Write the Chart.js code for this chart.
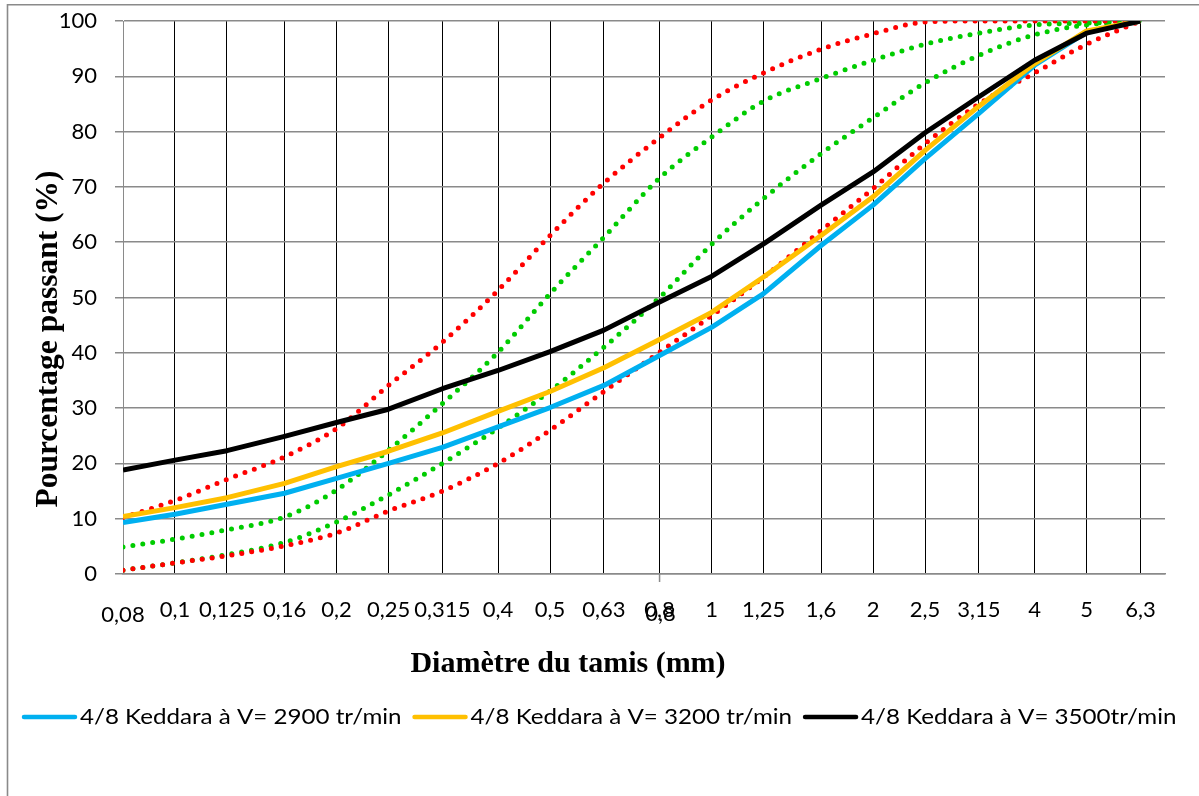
<!DOCTYPE html>
<html>
<head>
<meta charset="utf-8">
<script src="https://cdn.jsdelivr.net/npm/chart.js@4.4.0/dist/chart.umd.min.js"></script>
<style>
html,body{margin:0;padding:0;background:#fff;}
#wrap{width:1199px;height:796px;position:relative;}
</style>
</head>
<body>
<div id="wrap"><canvas id="c" width="1199" height="796"></canvas></div>
<script>
// Sieve sizes (mm) and their labels
const sieves = [0.08,0.1,0.125,0.16,0.2,0.25,0.315,0.4,0.5,0.63,0.8,1,1.25,1.6,2,2.5,3.15,4,5,6.3];
const sieveLabels = ['0,08','0,1','0,125','0,16','0,2','0,25','0,315','0,4','0,5','0,63','0,8','1','1,25','1,6','2','2,5','3,15','4','5','6,3'];

// Measured curves (% passing)
const v2900 = [9.3,10.8,12.6,14.6,17.3,20.0,22.9,26.6,30.1,34.1,39.5,44.6,50.7,59.4,66.7,75.1,83.3,92.0,98.0,100];
const v3200 = [10.4,12.0,13.8,16.4,19.4,22.2,25.5,29.4,33.0,37.3,42.4,47.3,53.7,61.2,68.2,76.6,84.6,92.3,98.2,100];
const v3500 = [18.8,20.6,22.3,24.9,27.4,29.8,33.5,36.8,40.2,44.1,49.2,53.8,59.7,66.7,72.7,79.8,86.3,92.9,97.8,100];

// Spindle limits (dotted)
const redUpper   = [10.2,13.3,17.1,21.2,26.3,34.1,41.9,51.3,61.2,70.7,78.9,85.7,90.6,94.9,97.7,99.8,100,100,100,100];
const redLower   = [0.7,2.0,3.3,5.1,7.4,11.4,15.0,20.0,26.0,33.0,40.1,46.7,53.7,62.1,69.7,77.8,85.0,90.6,95.8,100];
const greenUpper = [4.9,6.3,8.0,10.3,15.2,22.4,30.8,40.1,50.7,60.9,71.6,79.0,85.5,89.6,92.9,95.8,97.8,99.3,99.6,100];
const greenLower = [0.7,2.0,3.5,5.7,9.4,14.3,20.0,26.4,33.1,41.0,50.0,59.6,67.9,76.0,82.5,88.8,93.8,97.5,99.3,100];

const seriesNames = ['4/8 Keddara à V= 2900 tr/min','4/8 Keddara à V= 3200 tr/min','4/8 Keddara à V= 3500tr/min'];
const seriesColors = ['#00B0F0','#FFC000','#000000'];
const xTitle = 'Diamètre du tamis (mm)';
const yTitle = 'Pourcentage passant (%)';

const pts = arr => sieves.map((x,i)=>({x:x, y:arr[i]}));

function solid(label, arr, color, order){
  return {label, data:pts(arr), borderColor:color, backgroundColor:color, borderWidth:5,
    pointRadius:0, tension:0, order:order, borderJoinStyle:'round'};
}
function dotted(label, arr, color){
  return {label, data:pts(arr), borderColor:color, backgroundColor:color, borderWidth:5,
    borderDash:[0,10], borderCapStyle:'round', pointRadius:0, cubicInterpolationMode:'monotone', order:5};
}

const deco = {
  id:'deco',
  beforeDraw(chart){
    const c = chart.ctx;
    c.save();
    c.fillStyle = '#fff';
    c.fillRect(0,0,chart.width,chart.height);
    c.strokeStyle = '#8a8a8a';
    c.lineWidth = 1.6;
    c.beginPath();
    c.moveTo(7.5, chart.height);
    c.lineTo(7.5, 4.8);
    c.lineTo(chart.width, 4.8);
    c.stroke();
    c.restore();
  },
  afterDraw(chart){
    const c = chart.ctx;
    const xs = chart.scales.x;
    const area = chart.chartArea;
    c.save();
    // tick mark under 0,8
    const p08 = xs.getPixelForValue(0.8);
    c.strokeStyle = '#8a8a8a';
    c.lineWidth = 1.5;
    c.beginPath();
    c.moveTo(p08, area.bottom);
    c.lineTo(p08, area.bottom + 8);
    c.stroke();
    // x tick labels
    c.fillStyle = '#000';
    c.font = '22px Lato';
    c.textAlign = 'center';
    c.textBaseline = 'middle';
    const ly = area.bottom + 36;
    sieves.forEach((v,i)=>{
      const px = xs.getPixelForValue(v);
      let dy = 0;
      if (sieveLabels[i] === '0,08') dy = 5;
      c.fillText(sieveLabels[i], px, ly + dy);
      if (sieveLabels[i] === '0,8') c.fillText(sieveLabels[i], px + 1, ly + 4);
    });
    // axis titles
    c.font = 'bold 30px "Liberation Serif"';
    c.fillText(xTitle, 568, 664);
    c.save();
    c.translate(49, 339);
    c.rotate(-Math.PI/2);
    c.font = 'bold 31.5px "Liberation Serif"';
    c.fillText(yTitle, 0, 0);
    c.restore();
    // legend (solid series only)
    const ly2 = 717;
    const sx = 1.15;
    c.font = '21px Lato';
    c.textAlign = 'left';
    let x = 22;
    for (let i = 0; i < 3; i++) {
      c.strokeStyle = chart.data.datasets[i].borderColor;
      c.lineWidth = 4.5;
      c.lineCap = 'round';
      c.beginPath();
      c.moveTo(x + 2, ly2);
      c.lineTo(x + 53, ly2);
      c.stroke();
      const tx = x + 58;
      const w = c.measureText(seriesNames[i]).width * sx;
      c.save();
      c.translate(tx, ly2);
      c.scale(sx, 1);
      c.fillText(seriesNames[i], 0, 0);
      c.restore();
      x = tx + w + 11;
    }
    c.restore();
  }
};

new Chart(document.getElementById('c'), {
  type:'line',
  data:{
    datasets:[
      solid(seriesNames[0], v2900, seriesColors[0], 2),
      solid(seriesNames[1], v3200, seriesColors[1], 1),
      solid(seriesNames[2], v3500, seriesColors[2], 0),
      dotted('Fuseau rouge sup', redUpper, '#FF0000'),
      dotted('Fuseau rouge inf', redLower, '#FF0000'),
      dotted('Fuseau vert sup', greenUpper, '#00CC00'),
      dotted('Fuseau vert inf', greenLower, '#00CC00')
    ]
  },
  options:{
    responsive:false,
    animation:false,
    devicePixelRatio:1,
    layout:{autoPadding:false, padding:{left:0, top:21, right:34, bottom:0}},
    plugins:{
      tooltip:{enabled:false},
      legend:{display:false}
    },
    scales:{
      x:{
        type:'logarithmic', min:0.08, max:7,
        afterBuildTicks: s => { s.ticks = sieves.map(v=>({value:v})); },
        afterFit: s => { s.height = 222; s.paddingLeft = 0; s.paddingRight = 0; },
        ticks:{display:false},
        grid:{color:'#000', lineWidth:1, drawTicks:false},
        border:{color:'#8a8a8a', width:1.5}
      },
      y:{
        min:0, max:100,
        afterFit: s => { s.width = 123; s.paddingTop = 0; s.paddingBottom = 0; },
        ticks:{stepSize:10, font:{family:'Lato', size:22}, color:'#000', padding:18},
        grid:{color:'#8a8a8a', lineWidth:1.5, tickLength:8},
        border:{color:'#8a8a8a', width:1}
      }
    }
  },
  plugins:[deco]
});
</script>
</body>
</html>
